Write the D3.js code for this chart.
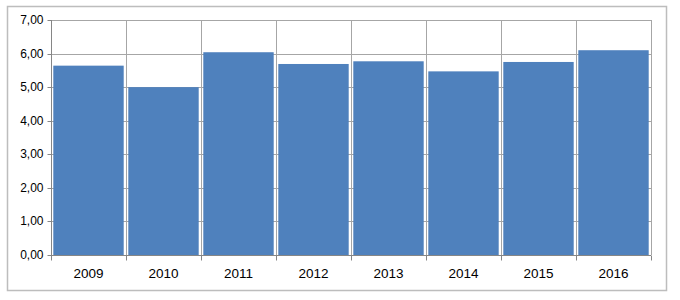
<!DOCTYPE html>
<html>
<head>
<meta charset="utf-8">
<script src="https://cdn.jsdelivr.net/npm/d3@7"></script>
<style>
  body { margin: 0; background: #fff; }
  svg { display: block; font-family: "Liberation Sans", "DejaVu Sans", sans-serif; }
</style>
</head>
<body>
<svg class="vis-chart"></svg>
<script>
const years = ["2009", "2010", "2011", "2012", "2013", "2014", "2015", "2016"];
const values = [5.64, 5.0, 6.04, 5.69, 5.77, 5.47, 5.75, 6.10];
const yTicks = [0, 1, 2, 3, 4, 5, 6, 7];

const margin = {top: 20, right: 29, bottom: 45, left: 51},
    width = 680 - margin.left - margin.right,
    height = 300 - margin.top - margin.bottom;

// define the chart
var svg = d3.select(".vis-chart")
    .attr("width", 680)
    .attr("height", 300);

// outer frame
svg.append("rect")
    .attr("x", 7.5).attr("y", 6.5)
    .attr("width", 659).attr("height", 284)
    .attr("fill", "#fff")
    .attr("stroke", "#bdbdbd")
    .attr("stroke-width", 1.5);

var g = svg.append("g")
    .attr("transform", `translate(${margin.left},${margin.top})`);

var y = d3.scaleLinear()
    .domain([0, 7])
    .range([height, 0]);

var x = d3.scaleBand()
    .domain(years)
    .range([0, width])
    .padding(0);

const fmt = d => d.toFixed(2).replace(".", ",");

// horizontal gridlines
g.append("g")
    .selectAll("line")
    .data(yTicks)
    .join("line")
    .attr("x1", 0).attr("x2", width)
    .attr("y1", d => Math.round(y(d)) + 0.5)
    .attr("y2", d => Math.round(y(d)) + 0.5)
    .attr("stroke", "#a6a6a6");

// vertical gridlines at category boundaries
g.append("g")
    .selectAll("line")
    .data(years.slice(1).concat(["end"]))
    .join("line")
    .attr("x1", (d, i) => Math.round(x.step() * (i + 1)) + 0.5)
    .attr("x2", (d, i) => Math.round(x.step() * (i + 1)) + 0.5)
    .attr("y1", 0).attr("y2", height)
    .attr("stroke", "#a6a6a6");

// bars
const gap = 2.3;
g.append("g")
    .selectAll("rect")
    .data(values)
    .join("rect")
    .attr("x", (d, i) => x(years[i]) + gap)
    .attr("width", x.bandwidth() - gap * 2)
    .attr("y", d => y(d))
    .attr("height", d => height - y(d))
    .attr("fill", "#4f81bd");

// y axis
var yAxis = g.append("g")
    .attr("transform", "translate(0.5,0)")
    .call(d3.axisLeft(y).tickValues(yTicks).tickFormat(fmt).tickSize(4).tickPadding(4));
yAxis.select(".domain").attr("stroke", "#868686").attr("d", `M0,0V${height}`);
yAxis.selectAll(".tick line").attr("stroke", "#868686");
yAxis.selectAll(".tick").attr("transform", d => `translate(0,${Math.round(y(d)) + 0.5})`);
yAxis.selectAll("text").attr("fill", "#000").attr("font-size", 12);

// x axis
var xAxis = g.append("g")
    .attr("transform", `translate(0,${height + 0.5})`)
    .call(d3.axisBottom(x).tickSize(0).tickPadding(13));
xAxis.select(".domain").attr("stroke", "#868686").attr("d", `M0,0H${width}`);
xAxis.selectAll("text").attr("fill", "#000").attr("font-size", 13.5);

// x tick marks at boundaries
xAxis.append("g")
    .selectAll("line")
    .data(d3.range(years.length + 1))
    .join("line")
    .attr("x1", i => Math.round(x.step() * i) + 0.5)
    .attr("x2", i => Math.round(x.step() * i) + 0.5)
    .attr("y1", 0).attr("y2", 5)
    .attr("stroke", "#868686");
</script>
</body>
</html>
